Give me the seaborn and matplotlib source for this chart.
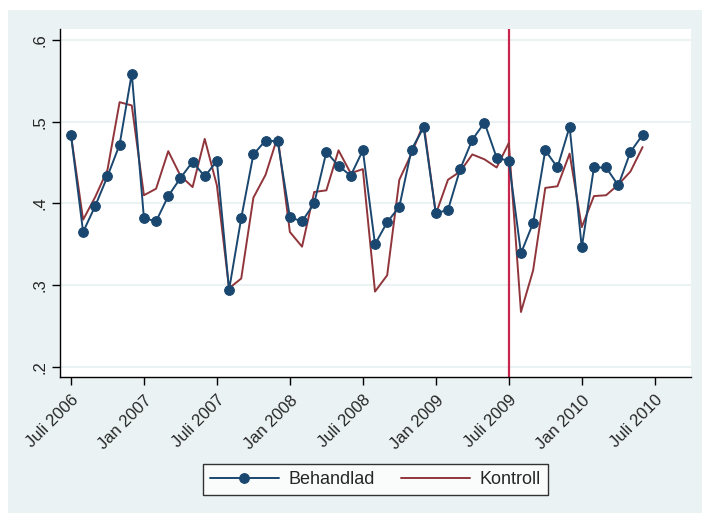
import numpy as np
import pandas as pd
import matplotlib
matplotlib.use('Agg')
import matplotlib.pyplot as plt
import seaborn as sns

# months from Juli 2006 to Juni 2010
month = list(range(48))
behandlad = [0.484, 0.365, 0.397, 0.433, 0.472, 0.559, 0.382, 0.378, 0.409, 0.431, 0.451, 0.433,
             0.452, 0.294, 0.382, 0.460, 0.477, 0.476, 0.383, 0.378, 0.400, 0.463, 0.446, 0.434,
             0.465, 0.350, 0.377, 0.396, 0.466, 0.493, 0.388, 0.392, 0.442, 0.478, 0.499, 0.456,
             0.452, 0.339, 0.376, 0.465, 0.444, 0.494, 0.346, 0.444, 0.444, 0.422, 0.463, 0.484]
kontroll = [0.484, 0.380, 0.408, 0.441, 0.524, 0.520, 0.410, 0.418, 0.464, 0.434, 0.420, 0.479,
            0.422, 0.296, 0.308, 0.407, 0.435, 0.482, 0.365, 0.347, 0.414, 0.416, 0.465, 0.437,
            0.442, 0.292, 0.312, 0.429, 0.461, 0.498, 0.387, 0.429, 0.439, 0.460, 0.454, 0.444,
            0.474, 0.267, 0.318, 0.419, 0.421, 0.461, 0.371, 0.409, 0.410, 0.423, 0.439, 0.469]
tick_pos = [0, 6, 12, 18, 24, 30, 36, 42, 48]
tick_labels = ['Juli 2006', 'Jan 2007', 'Juli 2007', 'Jan 2008', 'Juli 2008',
               'Jan 2009', 'Juli 2009', 'Jan 2010', 'Juli 2010']
y_ticks = [0.2, 0.3, 0.4, 0.5, 0.6]
y_labels = ['.2', '.3', '.4', '.5', '.6']
reform = 36

df = pd.DataFrame({'month': month, 'Behandlad': behandlad, 'Kontroll': kontroll})

sns.set_style('white')
plt.rcParams['font.family'] = ['Liberation Sans', 'DejaVu Sans']
navy = '#1a476f'
maroon = '#90353b'
bg = '#eaf2f3'

fig = plt.figure(figsize=(7.02, 5.13), dpi=100)
fig.patch.set_facecolor('white')
fig.patches.append(plt.Rectangle((8 / 702, 0), 1, 1 - 10 / 513, transform=fig.transFigure,
                                 facecolor=bg, edgecolor='none', zorder=-5))
ax = fig.add_axes([60 / 702, 1 - 377.3 / 513, 631 / 702, 348.6 / 513])
ax.set_facecolor('white')

for y in y_ticks:
    ax.axhline(y, color=bg, lw=1.5, zorder=0)

ax.axvline(reform, color='#c8264e', lw=1.6, zorder=1)
sns.lineplot(data=df, x='month', y='Kontroll', color=maroon, lw=1.4, ax=ax, label='Kontroll', zorder=2)
sns.lineplot(data=df, x='month', y='Behandlad', color=navy, lw=1.4, marker='o', markersize=7,
             markeredgecolor=navy, ax=ax, label='Behandlad', zorder=3)

ax.set_xlim(-0.9, 50.98)
ax.set_ylim(0.187, 0.614)
ax.set_xticks(tick_pos)
ax.set_xticklabels(tick_labels, rotation=45, ha='right', rotation_mode='anchor', fontsize=12)
ax.set_yticks(y_ticks)
ax.set_yticklabels(y_labels, rotation=90, va='center', fontsize=12)
ax.set_xlabel('')
ax.set_ylabel('')
ax.tick_params(axis='both', direction='out', length=6, width=1, color='black', pad=3,
               bottom=True, left=True)
ax.tick_params(axis='x', pad=5)
for s in ['top', 'right']:
    ax.spines[s].set_visible(False)
for s in ['left', 'bottom']:
    ax.spines[s].set_color('black')
    ax.spines[s].set_linewidth(1)

handles, labels = ax.get_legend_handles_labels()
order = [labels.index('Behandlad'), labels.index('Kontroll')]
leg = ax.legend([handles[i] for i in order], [labels[i] for i in order], loc='center',
                bbox_to_anchor=(0.535, 0.065), bbox_transform=fig.transFigure, ncol=2,
                frameon=True, fancybox=False, edgecolor='black', fontsize=13,
                handlelength=3.8, handletextpad=0.55, columnspacing=1.45, borderpad=0.4)
leg.get_frame().set_linewidth(1)

fig.savefig('out.png', dpi=100, facecolor=fig.get_facecolor())
